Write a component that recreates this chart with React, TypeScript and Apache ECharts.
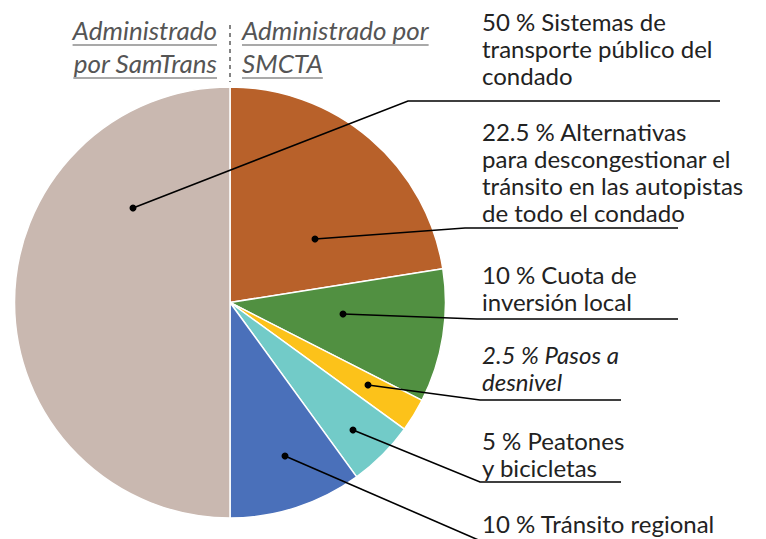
import React, { useEffect, useRef } from 'react';
import * as echarts from 'echarts';

// Slices, clockwise from 12 o'clock
const categories = [
  'Alternativas para descongestionar el tránsito en las autopistas de todo el condado',
  'Cuota de inversión local',
  'Pasos a desnivel',
  'Peatones y bicicletas',
  'Tránsito regional',
  'Sistemas de transporte público del condado',
];
const values = [22.5, 10, 2.5, 5, 10, 50];
const colors = ['#B8612A', '#519041', '#FCC21A', '#72CBC8', '#4A70BA', '#C9B8B0'];

// Right-hand labels, top to bottom
const labelTexts = [
  ['50 % Sistemas de', 'transporte público del', 'condado'],
  ['22.5 % Alternativas', 'para descongestionar el', 'tránsito en las autopistas', 'de todo el condado'],
  ['10 % Cuota de', 'inversión local'],
  ['2.5 % Pasos a', 'desnivel'],
  ['5 % Peatones', 'y bicicletas'],
  ['10 % Tránsito regional'],
];
const labelItalic = [false, false, false, true, false, false];
const headerLeft = ['Administrado', 'por SamTrans'];
const headerRight = ['Administrado por', 'SMCTA'];

// Annotation geometry (leader lines)
const labelTop = [8, 118, 261, 341, 427, 510];
const dots = [[133, 208], [315, 239], [343, 314], [368, 385], [353, 430], [285, 456]];
const elbows = [[408, 101], [465, 228], [477, 319], [480, 400], [480, 482], [490, 545]];
const lineEnds = [720, 678, 678, 621, 621, 490];

const FONT = 'Lato, "Noto Sans", sans-serif';

function measure(text: string, font: string): number {
  const c = document.createElement('canvas').getContext('2d');
  if (!c) return text.length * 10;
  c.font = font;
  return c.measureText(text).width;
}

export default function App() {
  const ref = useRef<HTMLDivElement>(null);
  useEffect(() => {
    if (!ref.current) return;
    const chart = echarts.init(ref.current, undefined, { renderer: 'svg' });
    const graphics: any[] = [];
    const LS = 27;
    labelTexts.forEach((lines, i) => {
      graphics.push({
        type: 'text',
        x: 482,
        y: labelTop[i],
        z: 10,
        style: {
          text: lines.join('\n'),
          font: `${labelItalic[i] ? 'italic ' : ''}24px ${FONT}`,
          lineHeight: LS,
          fill: '#222',
          verticalAlign: 'top',
        },
      });
      const [dx, dy] = dots[i];
      const [ex, ey] = elbows[i];
      graphics.push({
        type: 'polyline',
        z: 10,
        shape: { points: [[dx, dy], [ex, ey], [lineEnds[i], ey]] },
        style: { stroke: '#000', lineWidth: 1.6, fill: null },
      });
      graphics.push({
        type: 'circle',
        z: 11,
        shape: { cx: dx, cy: dy, r: 3.5 },
        style: { fill: '#000' },
      });
    });
    const hFont = `italic 26px ${FONT}`;
    const hTops = [17, 50];
    const uOff = 28;
    headerLeft.forEach((t, i) => {
      const w = measure(t, hFont);
      graphics.push({
        type: 'text', x: 217, y: hTops[i],
        style: { text: t, font: hFont, fill: '#555', align: 'right', verticalAlign: 'top' },
      });
      graphics.push({
        type: 'line', shape: { x1: 217 - w, y1: hTops[i] + uOff, x2: 217, y2: hTops[i] + uOff },
        style: { stroke: '#555', lineWidth: 1.2 },
      });
    });
    headerRight.forEach((t, i) => {
      const w = measure(t, hFont);
      graphics.push({
        type: 'text', x: 242, y: hTops[i],
        style: { text: t, font: hFont, fill: '#555', align: 'left', verticalAlign: 'top' },
      });
      graphics.push({
        type: 'line', shape: { x1: 242, y1: hTops[i] + uOff, x2: 242 + w, y2: hTops[i] + uOff },
        style: { stroke: '#555', lineWidth: 1.2 },
      });
    });
    graphics.push({
      type: 'line',
      shape: { x1: 230, y1: 25, x2: 230, y2: 82 },
      style: { stroke: '#666', lineWidth: 1.6, lineDash: [4, 4] },
    });

    chart.setOption({
      animation: false,
      series: [
        {
          type: 'pie',
          center: [230, 302.5],
          radius: 215.5,
          startAngle: 90,
          clockwise: true,
          label: { show: false },
          labelLine: { show: false },
          silent: true,
          itemStyle: { borderColor: '#fff', borderWidth: 1.5 },
          data: categories.map((c, i) => ({ name: c, value: values[i], itemStyle: { color: colors[i] } })),
        },
      ],
      graphic: graphics,
    });
    return () => chart.dispose();
  }, []);
  return <div ref={ref} style={{ width: 766, height: 539, position: 'absolute', left: 0, top: 0 }} />;
}
